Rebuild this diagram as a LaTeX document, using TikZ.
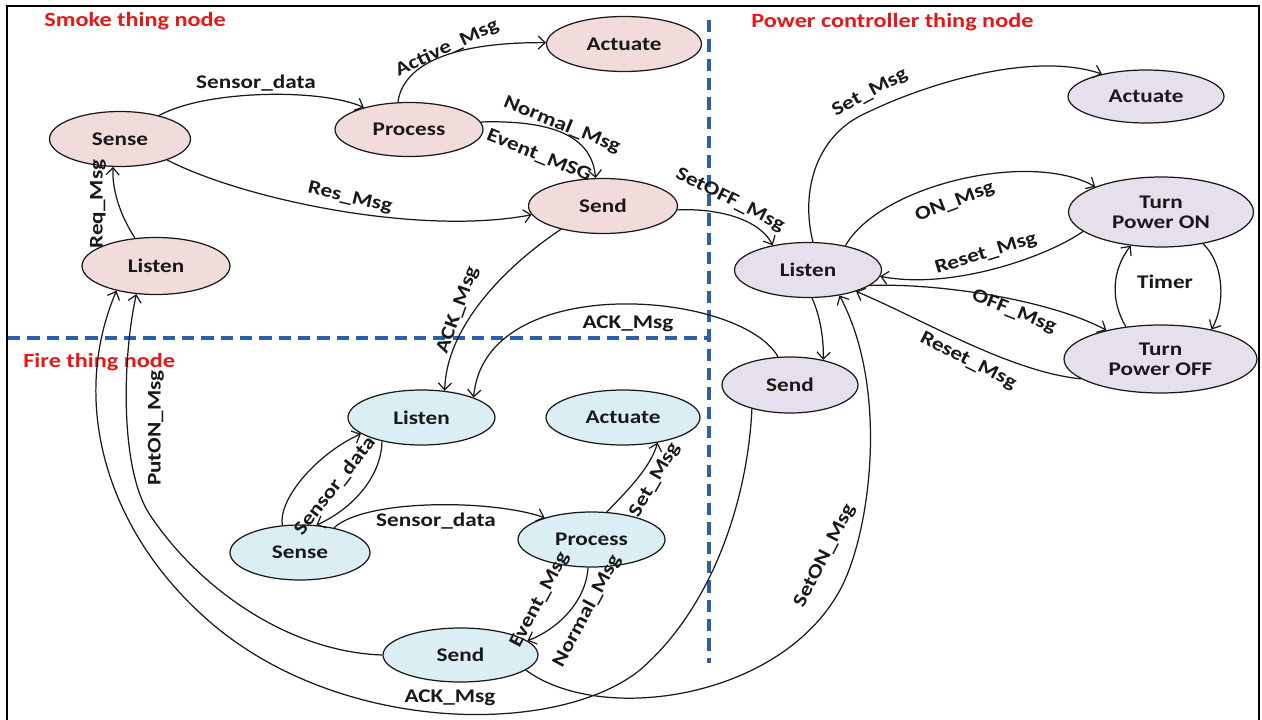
\documentclass[tikz,border=0pt]{standalone}
\usepackage{fontspec}
\setmainfont{Carlito}[FakeStretch=1.2]
\usetikzlibrary{shapes.geometric,arrows.meta}

\definecolor{smokefill}{RGB}{242,220,219}
\definecolor{powerfill}{RGB}{229,224,236}
\definecolor{firefill}{RGB}{218,238,243}
\definecolor{titlered}{RGB}{228,24,24}
\definecolor{splitblue}{RGB}{46,96,168}
\definecolor{ink}{RGB}{25,25,25}

\newcommand\stfont{\fontsize{11}{11.4}\selectfont\bfseries}
\newcommand\ttlfont{\fontsize{11.5}{12}\selectfont\bfseries}

\begin{document}
\begin{tikzpicture}[x=0.02cm,y=-0.02cm,
  state/.style={ellipse,draw=ink,line width=0.7pt,inner sep=0pt,
    minimum width=2.94cm,minimum height=1.10cm,font=\stfont,align=center,text=ink},
  smoke/.style={state,fill=smokefill},
  power/.style={state,fill=powerfill},
  fire/.style={state,fill=firefill},
  msg/.style={draw=ink,line width=0.7pt,-{Straight Barb[length=4pt,width=7.5pt]}},
  lbl/.style={font=\stfont,text=ink,inner sep=0pt},
  ttl/.style={font=\ttlfont,text=titlered,anchor=west,inner sep=0pt},
  split/.style={draw=splitblue,line width=1.8pt,dash pattern=on 7pt off 4pt},
  frame/.style={draw=black,line width=1.1pt}
]
\useasboundingbox (0,0) rectangle (1262,720);
\fill[white] (0,0) rectangle (1262,720);
\draw[frame] (7,6) rectangle (1259,735);

% region separators
\draw[split] (8,338) -- (709,338);
\draw[split] (709,20) -- (709,663);

% region titles
\node[ttl] (tSmoke) at (44,21) {Smoke thing node};
\node[ttl] (tPower) at (751,22) {Power controller thing node};
\node[ttl] (tFire) at (23,362) {Fire thing node};

% smoke thing node states
\node[smoke,minimum width=2.82cm] (sSense) at (120,139) {Sense};
\node[smoke,minimum width=2.96cm,minimum height=1.08cm] (sProc) at (409,129.5) {Process};
\node[smoke,minimum width=3.10cm] (sAct) at (624,44) {Actuate};
\node[smoke,minimum width=2.98cm] (sSend) at (603,206) {Send};
\node[smoke,minimum width=2.96cm,minimum height=1.14cm] (sListen) at (156,266) {Listen};

% power controller thing node states
\node[power,minimum width=3.12cm,minimum height=1.06cm] (pAct) at (1146,96.5) {Actuate};
\node[power,minimum width=3.70cm,minimum height=1.40cm] (pOn) at (1161,212) {Turn\\Power ON};
\node[power,minimum width=3.86cm,minimum height=1.36cm] (pOff) at (1160.5,359) {Turn\\Power OFF};
\node[power] (pListen) at (808,270) {Listen};
\node[power,minimum width=2.72cm,minimum height=1.12cm] (pSend) at (790,385) {Send};

% fire thing node states
\node[fire] (fListen) at (421.5,417.5) {Listen};
\node[fire,minimum width=3.08cm] (fAct) at (623,417.5) {Actuate};
\node[fire] (fProc) at (591.5,539.5) {Process};
\node[fire,minimum width=3.10cm,minimum height=1.08cm] (fSend) at (460.5,655) {Send};
\node[fire,minimum width=2.80cm] (fSense) at (300,552.5) {Sense};

% smoke transitions
\draw[msg] (sSense.31) .. controls (205,90) and (320,88) .. (sProc.154);
\draw[msg] (sProc.112) .. controls (402,70) and (440,42) .. (sAct.179);
\draw[msg] (sProc.6) .. controls (550,120) and (592,135) .. (sSend.105);
\draw[msg] (sSense.-24) .. controls (245,200) and (420,236) .. (sSend.187);
\draw[msg] (sListen.127) .. controls (120,215) and (112,190) .. (sSense.256);
\draw[msg] (sSend.209) .. controls (500,270) and (446,330) .. (fListen.49);
\draw[msg] (sSend.-3) .. controls (720,208) and (760,220) .. (pListen.145);

% power controller transitions
\draw[msg] (pListen.80) .. controls (800,190) and (817,137) .. (862,115)
  .. controls (920,86) and (1030,50) .. (pAct.153);
\draw[msg] (pListen.33) .. controls (880,185) and (1030,150) .. (pOn.159);
\draw[msg] (pOn.194) .. controls (1045,258) and (950,290) .. (pListen.-5);
\draw[msg] (pListen.-14) .. controls (940,283) and (1050,300) .. (pOff.152);
\draw[msg] (pOff.194) .. controls (1010,372) and (920,318) .. (pListen.-24);
\draw[msg] (pOff.137) .. controls (1110,300) and (1112,270) .. (pOn.228);
\draw[msg] (pOn.-37) .. controls (1225,265) and (1225,305) .. (pOff.30);
\draw[msg] (pListen.-82) .. controls (820,315) and (824,340) .. (pSend.37);
\draw[msg] (pSend.113) .. controls (740,290) and (485,270) .. (fListen.21);
\draw[msg] (pSend.212) .. controls (748,495) and (715,605) .. (640,670)
  .. controls (555,738) and (330,735) .. (200,613)
  .. controls (105,525) and (70,400) .. (sListen.212);

% fire transitions
\draw[msg] (fSense.123) .. controls (278,500) and (315,455) .. (fListen.195);
\draw[msg] (fListen.211) .. controls (382,470) and (360,505) .. (fSense.59);
\draw[msg] (fSense.36) .. controls (365,499) and (490,499) .. (fProc.155);
\draw[msg] (fProc.61) .. controls (628,490) and (650,468) .. (fAct.-36);
\draw[msg] (fProc.-97) .. controls (586,600) and (560,628) .. (fSend.12);
\draw[msg] (fSend.180) .. controls (290,652) and (200,590) .. (150,515)
  .. controls (120,470) and (122,360) .. (sListen.235);
\draw[msg] (fSend.-13) .. controls (600,725) and (780,700) .. (840,590)
  .. controls (870,535) and (890,390) .. (pListen.-39);

% transition labels
\node[lbl] (lSmSensor) at (256,83) {Sensor\_data};
\node[lbl,rotate=25] (lActive) at (447,48) {Active\_Msg};
\node[lbl,rotate=-22] (lSmNormal) at (562,125) {Normal\_Msg};
\node[lbl,rotate=-22] (lSmEvent) at (539,156) {Event\_MSG};
\node[lbl,rotate=-13] (lRes) at (350,198) {Res\_Msg};
\node[lbl,rotate=90] (lReq) at (98,204) {Req\_Msg};
\node[lbl,rotate=70] (lSmAck) at (458,310) {ACK\_Msg};
\node[lbl,rotate=-27] (lSetOff) at (730,200) {SetOFF\_Msg};

\node[lbl,rotate=28] (lPwSet) at (870,93) {Set\_Msg};
\node[lbl,rotate=21] (lOn) at (955,202) {ON\_Msg};
\node[lbl,rotate=17] (lResetOn) at (986,254) {Reset\_Msg};
\node[lbl,rotate=-22] (lOff) at (1014,312) {OFF\_Msg};
\node[lbl,rotate=-27] (lResetOff) at (968,361) {Reset\_Msg};
\node[lbl] (lTimer) at (1165,282) {Timer};
\node[lbl] (lPwAck) at (628,324) {ACK\_Msg};
\node[lbl,rotate=63] (lSetOn) at (825,556) {SetON\_Msg};

\node[lbl,rotate=90] (lPutOn) at (156,428) {PutON\_Msg};
\node[lbl] (lBotAck) at (450,698) {ACK\_Msg};
\node[lbl,rotate=52] (lFiSensorA) at (335,486) {Sensor\_data};
\node[lbl] (lFiSensorB) at (436,521) {Sensor\_data};
\node[lbl,rotate=60] (lFiSet) at (655,480) {Set\_Msg};
\node[lbl,rotate=62] (lFiEvent) at (540,600) {Event\_Msg};
\node[lbl,rotate=62] (lFiNormal) at (587,611) {Normal\_Msg};
\end{tikzpicture}
\end{document}
